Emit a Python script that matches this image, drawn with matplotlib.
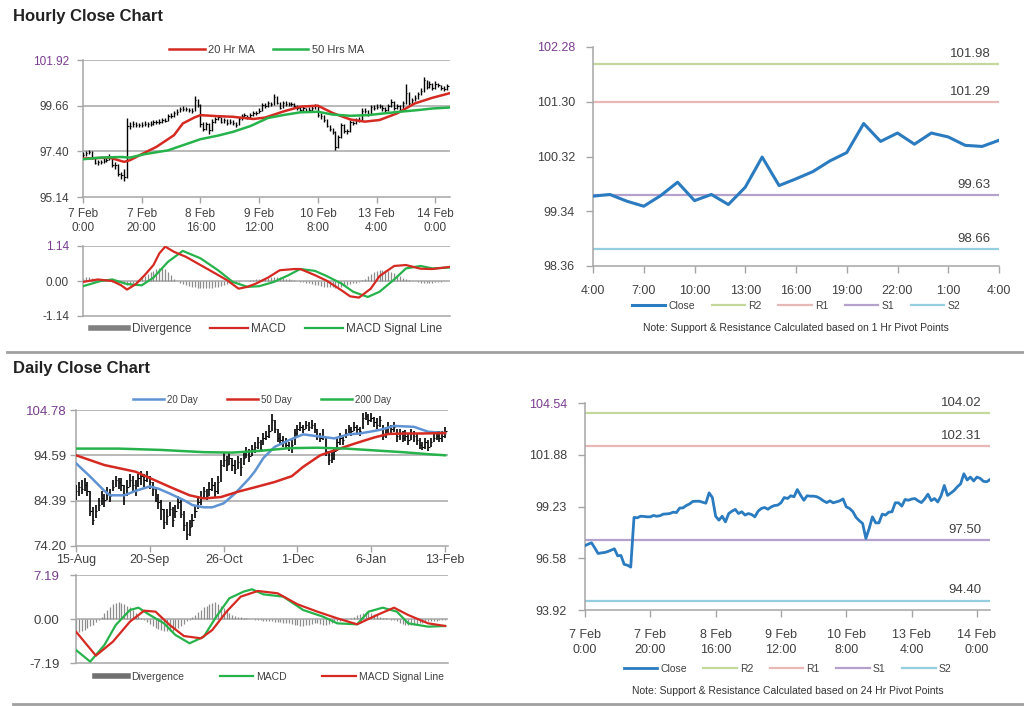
import matplotlib
matplotlib.use('Agg')
import matplotlib.pyplot as plt
from matplotlib.lines import Line2D

plt.rcParams['font.family'] = ['Liberation Sans', 'DejaVu Sans']

# ---------------- hourly data (7 Feb 0:00 .. 14 Feb 4:00) ----------------
hourly_close = [
    97.22, 97.30, 97.37, 97.10, 96.82, 96.85, 96.87, 96.92, 96.99, 97.06,
    96.70, 96.72, 96.26, 96.22, 96.12, 98.67, 98.65, 98.73, 98.72, 98.70,
    98.70, 98.77, 98.73, 98.76, 98.84, 98.85, 98.87, 98.94, 98.92, 99.15,
    99.16, 99.28, 99.36, 99.49, 99.50, 99.50, 99.45, 99.40, 99.93, 99.69,
    98.73, 98.53, 98.73, 98.44, 98.87, 98.99, 99.08, 98.87, 98.96, 98.79,
    98.87, 98.82, 98.70, 98.99, 99.13, 99.18, 99.09, 99.21, 99.28, 99.30,
    99.42, 99.69, 99.64, 99.78, 99.73, 100.10, 99.81, 99.55, 99.78, 99.76,
    99.76, 99.73, 99.64, 99.52, 99.43, 99.52, 99.42, 99.47, 99.52, 99.62,
    99.21, 99.13, 98.97, 98.67, 98.50, 98.36, 97.59, 98.10, 98.70, 98.39,
    98.39, 98.84, 98.79, 98.94, 98.96, 99.42, 99.42, 99.25, 99.59, 99.55,
    99.61, 99.64, 99.52, 99.43, 99.62, 99.86, 99.53, 99.64, 99.46, 99.77,
    100.31, 99.80, 99.92, 100.05, 100.24, 100.39, 100.91, 100.59, 100.74, 100.54,
    100.74, 100.67, 100.52, 100.50, 100.61]
hourly_high = [
    97.35, 97.42, 97.48, 97.40, 97.12, 96.95, 96.98, 97.05, 97.10, 97.25,
    97.08, 96.85, 96.75, 96.40, 96.55, 99.05, 98.85, 98.88, 98.85, 98.82,
    98.83, 98.90, 98.86, 98.88, 98.95, 98.97, 98.99, 99.05, 99.04, 99.25,
    99.28, 99.40, 99.48, 99.60, 99.62, 99.60, 99.56, 99.52, 100.12, 100.00,
    99.72, 98.85, 98.85, 98.80, 98.98, 99.10, 99.20, 99.12, 99.06, 99.00,
    98.98, 98.94, 98.86, 99.08, 99.24, 99.30, 99.22, 99.32, 99.40, 99.42,
    99.55, 99.80, 99.78, 99.90, 99.86, 100.22, 100.15, 99.86, 99.88, 99.88,
    99.86, 99.84, 99.78, 99.68, 99.58, 99.62, 99.56, 99.58, 99.63, 99.74,
    99.66, 99.28, 99.18, 99.00, 98.72, 98.56, 98.40, 98.22, 98.82, 98.75,
    98.52, 98.95, 98.92, 99.05, 99.08, 99.55, 99.54, 99.46, 99.70, 99.68,
    99.72, 99.76, 99.68, 99.58, 99.74, 100.00, 99.90, 99.76, 99.68, 99.88,
    100.72, 100.35, 100.04, 100.18, 100.36, 100.52, 101.08, 100.95, 100.86, 100.78,
    100.86, 100.80, 100.70, 100.62, 100.72]
hourly_low = [
    97.10, 97.18, 97.25, 97.02, 96.75, 96.74, 96.78, 96.80, 96.85, 96.95,
    96.62, 96.55, 96.18, 96.05, 95.95, 96.10, 98.50, 98.58, 98.60, 98.58,
    98.60, 98.65, 98.62, 98.64, 98.72, 98.75, 98.76, 98.82, 98.83, 98.90,
    99.05, 99.12, 99.22, 99.33, 99.40, 99.38, 99.35, 99.30, 99.38, 99.60,
    98.60, 98.40, 98.45, 98.25, 98.40, 98.82, 98.95, 98.78, 98.82, 98.70,
    98.74, 98.72, 98.62, 98.68, 98.95, 99.06, 99.00, 99.05, 99.16, 99.20,
    99.28, 99.38, 99.55, 99.60, 99.62, 99.70, 99.72, 99.48, 99.52, 99.66,
    99.66, 99.62, 99.55, 99.44, 99.35, 99.38, 99.34, 99.36, 99.42, 99.48,
    99.12, 99.02, 98.86, 98.58, 98.40, 98.25, 97.45, 97.55, 98.05, 98.30,
    98.28, 98.35, 98.68, 98.75, 98.85, 98.92, 99.32, 99.15, 99.22, 99.45,
    99.48, 99.52, 99.42, 99.34, 99.40, 99.58, 99.45, 99.50, 99.38, 99.42,
    99.74, 99.70, 99.76, 99.88, 100.00, 100.20, 100.35, 100.50, 100.55, 100.46,
    100.50, 100.58, 100.44, 100.40, 100.45]

ma20h_x = [0, 9, 14, 16, 20, 25, 31, 34, 38, 40, 46, 51, 58, 62, 68, 74, 80,
           85, 91, 96, 101, 107, 113, 119, 125]
ma20h_y = [97.04, 97.09, 96.88, 96.96, 97.26, 97.62, 98.20, 98.78, 99.08, 99.19,
           99.14, 99.11, 99.00, 99.07, 99.36, 99.61, 99.66, 99.30, 98.98, 98.87,
           98.95, 99.28, 99.77, 100.05, 100.28]
ma50h_x = [0, 6, 13, 16, 21, 29, 35, 40, 46, 51, 57, 63, 68, 74, 80, 85, 91,
           97, 102, 108, 114, 119, 125]
ma50h_y = [97.01, 97.09, 97.12, 97.09, 97.26, 97.45, 97.75, 98.00, 98.18, 98.36,
           98.65, 99.05, 99.19, 99.33, 99.36, 99.22, 99.16, 99.19, 99.27, 99.36,
           99.44, 99.52, 99.57]

macdh_x = [0, 5, 10, 13, 15, 18, 21, 24, 26, 28, 31, 35, 40, 45, 49, 53, 56, 59,
           63, 67, 72, 74, 79, 83, 88, 91, 94, 98, 101, 106, 110, 115, 119, 125]
macdh_y = [-0.03, 0.05, 0.00, -0.14, -0.28, -0.10, 0.19, 0.52, 0.90, 1.12, 0.95,
           0.79, 0.52, 0.25, 0.03, -0.25, -0.19, -0.08, 0.11, 0.35, 0.39, 0.39,
           0.19, 0.01, -0.30, -0.50, -0.54, -0.25, 0.16, 0.49, 0.52, 0.40, 0.39, 0.46]
sigh_x = [0, 6, 10, 15, 20, 24, 29, 34, 40, 46, 51, 56, 60, 65, 70, 74, 79, 83,
          88, 92, 97, 101, 106, 110, 115, 119, 125]
sigh_y = [-0.17, 0.00, 0.05, -0.10, -0.14, 0.11, 0.63, 0.98, 0.74, 0.35, -0.03,
          -0.19, -0.17, -0.03, 0.19, 0.39, 0.33, 0.16, -0.08, -0.35, -0.52, -0.35,
          0.05, 0.41, 0.49, 0.41, 0.44]
divh = [
    0.10, 0.12, 0.13, 0.10, 0.06, 0.03,
    0.01, 0.00, -0.01, 0.00, -0.02, -0.03, -0.06,
    -0.08, -0.11, -0.13, -0.12, -0.08, -0.03,
    0.04, 0.10, 0.16, 0.22, 0.28, 0.33, 0.38, 0.42, 0.45, 0.40, 0.30, 0.18,
    0.08, 0.00, -0.06, -0.10, -0.14, -0.17, -0.19, -0.21, -0.22, -0.23,
    -0.24, -0.24, -0.23, -0.22, -0.20, -0.18, -0.15, -0.12, -0.09, -0.06,
    -0.04, -0.03, -0.02, -0.01, 0.00, 0.01,
    0.02, 0.03, 0.05, 0.06, 0.08, 0.10, 0.11, 0.12, 0.13, 0.13, 0.12, 0.10,
    0.08, 0.06, 0.04, 0.02, 0.00, -0.02, -0.04,
    -0.06, -0.08, -0.10, -0.12, -0.14, -0.16, -0.18, -0.19, -0.20, -0.21,
    -0.22, -0.20, -0.18, -0.15, -0.12, -0.10, -0.08, -0.05, -0.02, 0.02, 0.08,
    0.15, 0.22, 0.28, 0.32, 0.35, 0.36, 0.35, 0.33, 0.30, 0.25, 0.20, 0.15,
    0.10, 0.06, 0.03, 0.01,
    -0.01, -0.03, -0.05, -0.06, -0.07, -0.06, -0.05, -0.04, -0.03, -0.02, -0.01, 0.00]

hourly_ticks = ['7 Feb\n0:00', '7 Feb\n20:00', '8 Feb\n16:00', '9 Feb\n12:00',
                '10 Feb\n8:00', '13 Feb\n4:00', '14 Feb\n0:00']
pivot_hours = ['4:00', '7:00', '10:00', '13:00', '16:00', '19:00', '22:00', '1:00', '4:00']

piv1_levels = {'R2': 101.98, 'R1': 101.29, 'S1': 99.63, 'S2': 98.66}
piv24_levels = {'R2': 104.02, 'R1': 102.31, 'S1': 97.50, 'S2': 94.40}

# ---------------- daily data (15-Aug .. 13-Feb) ----------------
daily_close = [
    86.5, 87.5, 87.0, 88.0, 86.5, 82.0, 80.0, 82.0, 83.5, 85.0,
    84.5, 86.0, 85.5, 87.5, 89.0, 88.5, 88.0, 86.0, 87.5, 89.0,
    88.0, 87.0, 89.5, 90.0, 89.0, 90.0, 88.5, 87.0, 85.0, 84.0,
    82.5, 79.5, 81.0, 82.5, 80.0, 82.0, 84.0, 81.5, 79.0, 77.0,
    78.5, 80.0, 82.0, 84.0, 85.0, 86.5, 85.5, 87.0, 88.0, 86.5,
    88.5, 92.5, 93.5, 92.5, 94.0, 92.5, 91.5, 93.0, 92.0, 94.0,
    95.5, 94.5, 96.0, 96.5, 97.5, 96.0, 98.5, 99.0, 100.0, 102.5,
    100.5, 98.5, 98.0, 97.5, 97.0, 96.5, 97.0, 99.5, 100.5, 101.0,
    100.5, 101.5, 101.0, 101.5, 100.5, 99.0, 98.5, 99.0, 95.5, 93.5,
    94.0, 95.5, 97.5, 98.5, 98.0, 99.5, 100.5, 100.0, 101.0, 100.5,
    100.0, 103.0, 103.5, 102.5, 103.0, 102.0, 101.5, 102.5, 99.0, 99.5,
    101.0, 100.5, 101.0, 99.0, 99.5, 98.5, 99.0, 98.0, 99.5, 99.0,
    98.0, 97.0, 96.5, 97.5, 96.5, 97.5, 98.5, 99.0, 98.5, 99.0,
    100.0]
daily_high = [
    88.0, 88.5, 89.0, 89.5, 88.5, 86.5, 83.0, 83.5, 85.0, 86.5,
    86.0, 87.5, 87.0, 89.0, 90.0, 89.5, 89.5, 88.0, 89.0, 90.5,
    90.0, 89.0, 90.5, 91.0, 90.5, 91.0, 90.0, 88.5, 87.5, 86.0,
    84.5, 82.5, 82.5, 84.0, 83.0, 83.5, 85.5, 84.5, 82.0, 79.5,
    80.0, 81.5, 83.5, 85.5, 86.5, 87.5, 87.0, 88.5, 89.5, 88.5,
    90.0, 93.5, 95.0, 94.5, 95.0, 94.0, 93.5, 94.5, 94.0, 95.0,
    96.5, 96.0, 97.0, 97.5, 98.8, 98.0, 99.5, 100.0, 101.5, 103.8,
    102.5, 100.5, 99.5, 99.0, 98.5, 97.5, 98.0, 100.5, 101.5, 102.0,
    101.5, 102.2, 102.0, 102.5, 101.8, 100.5, 99.5, 100.5, 98.5, 95.5,
    95.5, 96.5, 98.5, 99.5, 99.0, 100.5, 101.5, 101.0, 102.0, 101.5,
    101.0, 104.0, 104.3, 103.8, 104.0, 103.2, 103.0, 103.5, 101.5, 100.5,
    102.0, 101.5, 102.0, 100.5, 100.5, 100.0, 100.2, 99.5, 100.5, 100.0,
    99.5, 98.5, 97.5, 98.5, 98.0, 98.5, 99.5, 100.0, 100.0, 100.0,
    101.0]
daily_low = [
    84.5, 85.5, 86.0, 86.5, 85.5, 81.0, 79.0, 80.5, 82.0, 83.5,
    83.0, 84.5, 84.0, 86.5, 87.5, 87.0, 86.5, 83.5, 85.5, 87.5,
    86.5, 85.5, 87.5, 88.0, 87.5, 88.5, 87.0, 85.5, 84.0, 82.5,
    80.0, 78.0, 79.0, 81.0, 78.5, 80.5, 82.5, 80.5, 77.5, 75.5,
    76.5, 78.5, 80.5, 82.5, 83.5, 85.0, 84.5, 85.5, 86.5, 85.0,
    86.0, 88.5, 92.0, 91.0, 92.5, 91.0, 90.5, 91.5, 90.0, 92.5,
    94.0, 93.0, 94.5, 95.0, 96.0, 95.5, 97.0, 98.0, 98.5, 100.0,
    99.5, 97.5, 97.0, 96.5, 96.0, 95.5, 95.0, 97.0, 99.0, 100.0,
    99.5, 100.5, 100.0, 100.5, 99.5, 98.0, 97.5, 98.0, 94.5, 92.5,
    92.8, 93.5, 95.5, 97.0, 97.0, 98.5, 99.5, 99.0, 100.0, 99.5,
    99.0, 100.5, 102.5, 101.5, 102.0, 101.0, 100.5, 101.0, 98.0, 98.5,
    99.5, 99.5, 99.8, 97.5, 98.0, 97.5, 97.8, 97.0, 98.0, 97.5,
    97.0, 96.0, 95.8, 96.0, 95.5, 96.5, 97.5, 98.0, 97.5, 97.5,
    98.5]

ma20d_x = [0, 5, 10, 12, 17, 21, 26, 29, 33, 38, 41, 45, 48, 52, 56, 61, 63, 66,
           70, 75, 80, 86, 91, 96, 100, 107, 112, 119, 124, 130]
ma20d_y = [92.8, 89.8, 86.6, 85.6, 85.6, 86.6, 87.6, 87.1, 86.0, 84.5, 83.4, 82.9,
           82.9, 83.8, 86.0, 89.4, 91.0, 94.0, 96.5, 98.0, 99.3, 98.8, 98.4, 99.3,
           99.5, 100.3, 101.2, 101.0, 99.9, 99.6]
ma50d_x = [0, 10, 21, 33, 40, 45, 51, 57, 63, 70, 76, 80, 86, 91, 98, 105, 110,
           116, 122, 130]
ma50d_y = [94.6, 92.4, 90.9, 87.5, 85.6, 84.9, 85.2, 86.4, 87.4, 88.6, 89.9, 92.0,
           94.6, 95.7, 97.2, 98.6, 99.4, 99.5, 99.5, 99.6]
ma200d_x = [0, 15, 30, 45, 55, 65, 75, 85, 95, 105, 115, 125, 130]
ma200d_y = [96.1, 96.1, 95.8, 95.3, 95.2, 95.6, 96.2, 96.3, 96.1, 95.7, 95.3, 94.8, 94.6]

macdd_x = [0, 5, 10, 14, 19, 22, 26, 31, 35, 40, 45, 49, 54, 59, 62, 66, 73, 80,
           87, 92, 99, 103, 108, 113, 117, 124, 130]
macdd_y = [-5.07, -6.97, -4.25, -0.98, 1.47, 1.85, 0.65, -0.71, -2.61, -3.97, -2.89,
           0.11, 3.38, 4.47, 4.85, 4.03, 3.65, 1.47, 0.38, -0.71, -0.87, 1.20, 1.85,
           1.20, -0.71, -1.25, -1.14]
sigd_x = [0, 7, 13, 19, 24, 28, 33, 38, 44, 48, 53, 58, 64, 71, 78, 85, 92, 99,
          106, 112, 117, 124, 130]
sigd_y = [-2.07, -5.99, -3.70, -0.43, 1.36, 1.20, -0.98, -2.78, -3.16, -1.80, 1.20,
          3.65, 4.58, 4.20, 2.40, 1.20, 0.11, -0.87, 0.65, 1.85, 0.65, -0.71, -1.14]
divd = [
    -2.3, -2.2, -2.0, -1.8, -1.5, -1.2, -0.9, -0.5, -0.2,
    0.3, 0.9, 1.5, 2.0, 2.4, 2.6, 2.7, 2.6, 2.4, 2.2, 1.9, 1.5, 1.0, 0.5, 0.1,
    -0.2, -0.5, -0.8, -1.1, -1.4, -1.6, -1.8, -1.9, -2.0, -2.0, -1.9, -1.7, -1.5,
    -1.2, -0.8, -0.4, -0.1,
    0.3, 0.7, 1.1, 1.5, 1.9, 2.2, 2.5, 2.6, 2.7, 2.5, 2.2, 1.8, 1.4, 1.0, 0.7,
    0.5, 0.35, 0.25, 0.15, 0.1, 0.05, 0.0,
    -0.1, -0.15, -0.2, -0.25, -0.3, -0.35, -0.4, -0.45, -0.5, -0.55, -0.6, -0.65, -0.7,
    -0.8, -0.9, -1.0, -1.1, -1.1, -1.0, -0.9, -0.8, -0.7, -0.7, -0.8, -0.9, -0.9,
    -0.8, -0.6,
    -0.5, -0.4, -0.3, -0.2, -0.1, 0.0, 0.2,
    0.4, 0.6, 0.8, 1.0, 1.1, 1.1, 1.0, 0.8, 0.6, 0.4, 0.2,
    0.1, 0.0, -0.1, -0.2,
    -0.4, -0.6, -0.8, -0.9, -1.0, -1.0, -0.9, -0.8, -0.7, -0.6,
    -0.5, -0.4, -0.35, -0.3, -0.25, -0.2, -0.15, -0.1]
daily_ticks = ['15-Aug', '20-Sep', '26-Oct', '1-Dec', '6-Jan', '13-Feb']

# ---------------- styling ----------------
GRID = '#a6a6a6'
TXT = '#404040'
TOP = '#7a3d8f'
RED = '#d42a22'
GREEN = '#27b34b'
BLUE20 = '#5f93d3'
CLOSE = '#2a7bbf'
DIVC = '#8c8c8c'
LEVEL_COL = {'R2': '#c4d89c', 'R1': '#e8b8b6', 'S1': '#b4a2cc', 'S2': '#93cfe0'}

fig = plt.figure(figsize=(10.24, 7.06), dpi=100)


def add_ax(l, t, r, b):
    return fig.add_axes([l / 1024, 1 - b / 706, (r - l) / 1024, (b - t) / 706])


def grid_style(ax, yticks, size, pad=3):
    ax.set_ylim(yticks[0], yticks[-1])
    ax.set_yticks(yticks)
    ax.set_yticklabels(['%.2f' % v for v in yticks])
    for v in yticks[1:]:
        ax.axhline(v, color=GRID, lw=1.1, zorder=0)
    for s in ['top', 'right']:
        ax.spines[s].set_visible(False)
    for s in ['left', 'bottom']:
        ax.spines[s].set_color(GRID)
        ax.spines[s].set_linewidth(1.1)
    ax.tick_params(axis='both', colors=GRID, labelcolor=TXT, labelsize=size,
                   length=4, width=1, pad=pad)
    ax.get_yticklabels()[-1].set_color(TOP)


def pivot_style(ax, yticks, levels, xmax):
    ax.set_ylim(yticks[0], yticks[-1])
    ax.set_yticks(yticks)
    ax.set_yticklabels(['%.2f' % v for v in yticks])
    ax.set_xlim(0, xmax)
    for s in ['top', 'right']:
        ax.spines[s].set_visible(False)
    for s in ['left', 'bottom']:
        ax.spines[s].set_color(GRID)
        ax.spines[s].set_linewidth(1.1)
    ax.tick_params(axis='both', colors=GRID, labelcolor=TXT, labelsize=9,
                   length=5, width=1)
    ax.tick_params(axis='y', pad=8)
    ax.tick_params(axis='x', pad=9)
    ax.get_yticklabels()[-1].set_color(TOP)
    for name, v in levels.items():
        ax.axhline(v, color=LEVEL_COL[name], lw=1.6, label=name, zorder=1)
        ax.annotate('%.2f' % v, xy=(1, v), xycoords=('axes fraction', 'data'),
                    xytext=(-6, 3), textcoords='offset points', ha='right',
                    va='bottom', fontsize=9.5, color=TXT)


def legend_kw(**kw):
    d = dict(frameon=False, handlelength=3.2, handletextpad=0.3, columnspacing=1.6,
             labelcolor=TXT, borderaxespad=0, borderpad=0)
    d.update(kw)
    return d


# titles and separators
fig.text(13 / 1024, 1 - 16 / 706, 'Hourly Close Chart', fontsize=12,
         fontweight='bold', color='#222222', va='center')
fig.text(13 / 1024, 1 - 369 / 706, 'Daily Close Chart', fontsize=12,
         fontweight='bold', color='#222222', va='center')
fig.add_artist(Line2D([7 / 1024, 1], [1 - 352 / 706] * 2, color='#a0a0a0', lw=2))
fig.add_artist(Line2D([13 / 1024, 1], [1 - 704 / 706] * 2, color='#a0a0a0', lw=2))

# ---- hourly bars ----
hx = list(range(len(hourly_close)))
ax1 = add_ax(83, 60, 450, 197)
grid_style(ax1, [95.14, 97.40, 99.66, 101.92], 8.5, pad=6)
ax1.vlines(hx, hourly_low, hourly_high, colors='black', lw=1.0, zorder=3)
ax1.hlines(hourly_close, hx, [x + 0.5 for x in hx], colors='black', lw=0.8, zorder=3)
ax1.plot(ma20h_x, ma20h_y, color=RED, lw=1.8, label='20 Hr MA', zorder=4)
ax1.plot(ma50h_x, ma50h_y, color=GREEN, lw=1.8, label='50 Hrs MA', zorder=4)
ax1.set_xlim(0, 125)
ax1.set_xticks(range(0, 121, 20))
ax1.set_xticklabels(hourly_ticks, fontsize=8.5, linespacing=1.25)
ax1.tick_params(axis='x', pad=4)
ax1.legend(loc='lower center', bbox_to_anchor=(0.5, 1.04), ncol=2, fontsize=8,
           **legend_kw())

# ---- hourly MACD ----
ax2 = add_ax(83, 246, 450, 316)
grid_style(ax2, [-1.14, 0.00, 1.14], 8.5, pad=6)
ax2.vlines(hx, 0, divh, colors=DIVC, lw=0.9, zorder=2)
ax2.plot(macdh_x, macdh_y, color=RED, lw=1.6, zorder=4)
ax2.plot(sigh_x, sigh_y, color=GREEN, lw=1.6, zorder=3)
ax2.set_xlim(0, 125)
ax2.set_xticks([])
ax2.legend([Line2D([], [], color='#808080', lw=4), Line2D([], [], color=RED, lw=1.6),
            Line2D([], [], color=GREEN, lw=1.6)],
           ['Divergence', 'MACD', 'MACD Signal Line'], loc='upper center',
           bbox_to_anchor=(0.5, -0.1), ncol=3, fontsize=8.5, **legend_kw())

# ---- 1 hr pivot chart ----
ax3 = add_ax(593, 47, 999, 266)
last24 = hourly_close[-25:]
ax3.plot(range(len(last24)), last24, color=CLOSE, lw=2.2, label='Close', zorder=3)
pivot_style(ax3, [98.36, 99.34, 100.32, 101.30, 102.28], piv1_levels, 24)
ax3.set_xticks(range(0, 25, 3))
ax3.set_xticklabels(pivot_hours)
h, l = ax3.get_legend_handles_labels()
order = [l.index(k) for k in ['Close', 'R2', 'R1', 'S1', 'S2']]
ax3.legend([h[i] for i in order], [l[i] for i in order], loc='upper center',
           bbox_to_anchor=(0.5, -0.16), ncol=5, fontsize=7.5, **legend_kw())
ax3.text(0.5, -0.283, 'Note: Support & Resistance Calculated based on 1 Hr Pivot Points',
         transform=ax3.transAxes, ha='center', va='center', fontsize=7.5, color='#333333')

# ---- daily bars ----
dx = list(range(len(daily_close)))
ax4 = add_ax(76, 410, 448, 546)
grid_style(ax4, [74.20, 84.39, 94.59, 104.78], 9.5)
ax4.vlines(dx, daily_low, daily_high, colors='black', lw=1.2, zorder=3)
ax4.hlines(daily_close, dx, [x + 0.5 for x in dx], colors='black', lw=0.8, zorder=3)
ax4.plot(ma20d_x, ma20d_y, color=BLUE20, lw=1.8, label='20 Day', zorder=4)
ax4.plot(ma50d_x, ma50d_y, color=RED, lw=1.8, label='50 Day', zorder=4)
ax4.plot(ma200d_x, ma200d_y, color=GREEN, lw=1.8, label='200 Day', zorder=4)
ax4.set_xlim(0, 131)
ax4.set_xticks(range(0, 131, 26))
ax4.set_xticklabels(daily_ticks, fontsize=9)
ax4.tick_params(axis='x', pad=2)
ax4.legend(loc='lower center', bbox_to_anchor=(0.5, 1.04), ncol=3, fontsize=7,
           **legend_kw(columnspacing=3.0))

# ---- daily MACD ----
ax5 = add_ax(76, 575, 448, 663)
grid_style(ax5, [-7.19, 0.00, 7.19], 9.5, pad=8)
ax5.vlines(dx, 0, divd, colors=DIVC, lw=0.9, zorder=2)
ax5.plot(macdd_x, macdd_y, color=GREEN, lw=1.6, zorder=3)
ax5.plot(sigd_x, sigd_y, color=RED, lw=1.6, zorder=4)
ax5.set_xlim(0, 131)
ax5.set_xticks([])
ax5.legend([Line2D([], [], color='#707070', lw=4), Line2D([], [], color=GREEN, lw=1.6),
            Line2D([], [], color=RED, lw=1.6)],
           ['Divergence', 'MACD', 'MACD Signal Line'], loc='upper center',
           bbox_to_anchor=(0.52, -0.1), ncol=3, fontsize=7.5,
           **legend_kw(columnspacing=3.4))

# ---- 24 hr pivot chart ----
ax6 = add_ax(585, 403, 990, 610)
ax6.plot(hx, hourly_close, color=CLOSE, lw=2.0, label='Close', zorder=3)
pivot_style(ax6, [93.92, 96.58, 99.23, 101.88, 104.54], piv24_levels, 124)
ax6.set_xticks(range(0, 121, 20))
ax6.set_xticklabels(hourly_ticks, linespacing=1.25)
h, l = ax6.get_legend_handles_labels()
order = [l.index(k) for k in ['Close', 'R2', 'R1', 'S1', 'S2']]
ax6.legend([h[i] for i in order], [l[i] for i in order], loc='upper center',
           bbox_to_anchor=(0.5, -0.26), ncol=5, fontsize=7.5, **legend_kw())
ax6.text(0.5, -0.39, 'Note: Support & Resistance Calculated based on 24 Hr Pivot Points',
         transform=ax6.transAxes, ha='center', va='center', fontsize=7.5, color='#333333')

fig.savefig('out.png', dpi=100)
